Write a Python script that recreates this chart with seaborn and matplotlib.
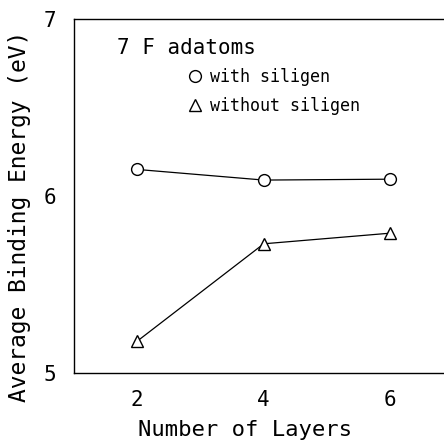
import matplotlib
matplotlib.use("Agg")
import matplotlib.pyplot as plt
import seaborn as sns
import pandas as pd
from matplotlib.lines import Line2D
from matplotlib.ticker import MultipleLocator

layers = [2, 4, 6]
with_siligen = [6.15, 6.09, 6.095]
without_siligen = [5.18, 5.73, 5.79]
series_names = ["with siligen", "without siligen"]

df = pd.DataFrame({
    "Number of Layers": layers * 2,
    "Energy": with_siligen + without_siligen,
    "series": [series_names[0]] * 3 + [series_names[1]] * 3,
})

sns.set_style("white")
plt.rcParams["font.family"] = ["DejaVu Sans Mono", "DejaVu Sans"]
plt.rcParams["text.color"] = "black"
plt.rcParams["axes.labelcolor"] = "black"
plt.rcParams["xtick.color"] = "black"
plt.rcParams["ytick.color"] = "black"

fig = plt.figure(figsize=(4.44, 4.41), dpi=100)
ax = fig.add_axes([74 / 444, 1 - 373 / 441, 1 - 74 / 444, (373 - 19) / 441])

sns.lineplot(data=df, x="Number of Layers", y="Energy", hue="series", style="series",
             markers={"with siligen": "o", "without siligen": "^"}, dashes=False,
             palette={"with siligen": "black", "without siligen": "black"},
             markersize=8.5, markerfacecolor="white", markeredgecolor="black",
             markeredgewidth=1.0, linewidth=0.9, legend=False, ax=ax)

ax.set_xlim(1.0, 6.85)
ax.set_ylim(5, 7)
ax.set_xticks(layers)
ax.set_yticks([5, 6, 7])
ax.yaxis.set_minor_locator(MultipleLocator(0.5))
ax.tick_params(axis="both", which="both", direction="inout", length=7.2, width=1,
               labelsize=15)
ax.tick_params(axis="x", pad=8.3)
ax.tick_params(axis="y", pad=9)
for s in ["left", "bottom", "top"]:
    ax.spines[s].set_visible(True)
    ax.spines[s].set_color("black")
    ax.spines[s].set_linewidth(1.0)
ax.spines["right"].set_visible(False)

xl = ax.set_xlabel("Number of Layers", fontsize=16)
ax.xaxis.set_label_coords(0.461, -0.161)
xl.set_va("center")
yl = ax.set_ylabel("Average Binding Energy (eV)", fontsize=16.5)
ax.yaxis.set_label_coords(-0.146, 0.443)
yl.set_va("center")

ax.text((117 - 74) / 370, (373 - 48) / 354, "7 F adatoms", transform=ax.transAxes,
        fontsize=15, ha="left", va="center")

handles = [
    Line2D([], [], marker="o", linestyle="none", markersize=8.5, markerfacecolor="white",
           markeredgecolor="black", label=series_names[0]),
    Line2D([], [], marker="^", linestyle="none", markersize=8.5, markerfacecolor="white",
           markeredgecolor="black", label=series_names[1]),
]
leg = ax.legend(handles=handles, loc="upper left", bbox_to_anchor=(0.264, 0.905),
                frameon=False, prop={"family": "DejaVu Sans Mono", "size": 12},
                handletextpad=0.4, labelspacing=0.7, handlelength=1.0)

fig.savefig("out.png", dpi=100)
